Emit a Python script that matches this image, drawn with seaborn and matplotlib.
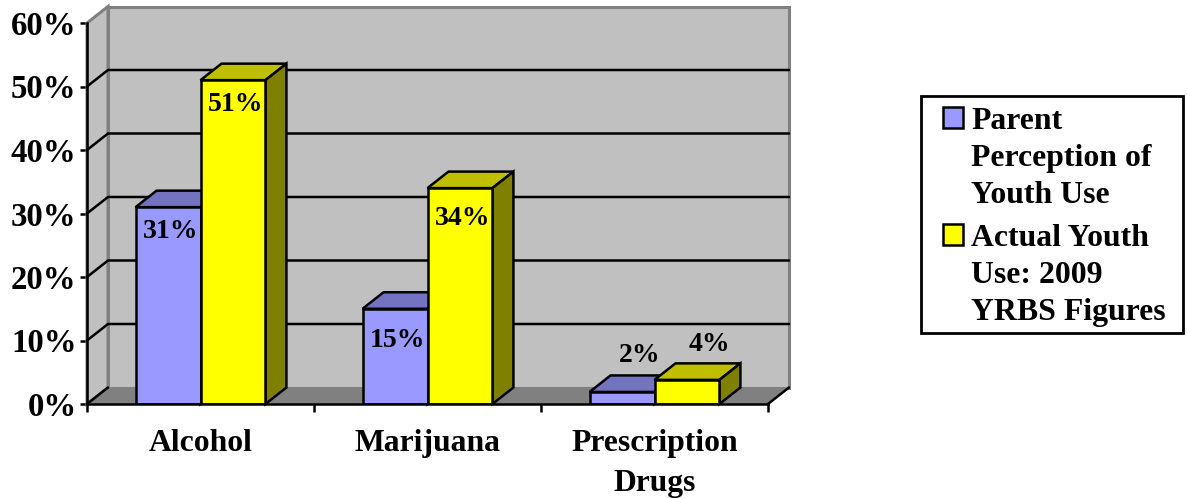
import matplotlib
matplotlib.use("Agg")
import matplotlib.pyplot as plt
import pandas as pd
import seaborn as sns
from matplotlib.colors import to_rgb
from matplotlib.patches import Polygon, Rectangle

categories = ["Alcohol", "Marijuana", "Prescription\nDrugs"]
series_names = ["Parent\nPerception of\nYouth Use", "Actual Youth\nUse: 2009\nYRBS Figures"]
parent_values = [31, 15, 1.9]
actual_values = [51, 34, 3.8]
parent_labels = ["31%", "15%", "2%"]
actual_labels = ["51%", "34%", "4%"]
y_ticks = [0, 10, 20, 30, 40, 50, 60]
colors = ["#9999FF", "#FFFF00"]

W, H = 1187, 499
sns.set_theme(style="white")
plt.rcParams["font.family"] = ["Liberation Serif", "DejaVu Serif"]
plt.rcParams["font.weight"] = "bold"
plt.rcParams["text.color"] = "black"

df = pd.DataFrame({
    "cat": categories * 2,
    "series": [series_names[0]] * 3 + [series_names[1]] * 3,
    "val": parent_values + actual_values,
})

LW = 1.8
BAR_W = 0.572
fig = plt.figure(figsize=(W / 100, H / 100), dpi=100, facecolor="white")
L, R, B, T = 87, 768, 404, 23
ax = fig.add_axes([L / W, 1 - B / H, (R - L) / W, (B - T) / H])
ax.patch.set_visible(False)

sns.barplot(data=df, x="cat", y="val", hue="series", palette=colors, width=BAR_W,
            gap=0, dodge=True, saturation=1, edgecolor="black", linewidth=LW,
            ax=ax, zorder=5, legend=True)
ax.set_xlim(-0.5, 2.5)
ax.set_ylim(0, 60)

bars = [p for p in ax.patches if isinstance(p, Rectangle) and p.get_height() > 0]

dx = 21 / ((R - L) / 3)
dy = 16.5 / ((B - T) / 60)
x0, x1 = -0.5, 2.5


def shade(c, f):
    return tuple(v * f for v in to_rgb(c))


# walls and floor
wall = "#C0C0C0"
ax.add_patch(Polygon([(x0 + dx, dy), (x1 + dx, dy), (x1 + dx, 60 + dy), (x0 + dx, 60 + dy)],
                     fc=wall, ec="#808080", lw=2.2, clip_on=False, zorder=1))
ax.add_patch(Polygon([(x0, 0), (x0 + dx, dy), (x0 + dx, 60 + dy), (x0, 60)],
                     fc=wall, ec="#808080", lw=2.2, clip_on=False, zorder=1))
ax.add_patch(Polygon([(x0, 0), (x1, 0), (x1 + dx, dy), (x0 + dx, dy)],
                     fc="#808080", ec="none", clip_on=False, zorder=1.5))
ax.plot([x1, x1 + dx], [0, dy], color="black", lw=LW, clip_on=False, zorder=2)
for v in y_ticks[1:-1]:
    ax.plot([x0, x0 + dx, x1 + dx], [v, v + dy, v + dy], color="black", lw=LW,
            clip_on=False, zorder=2)
ax.plot([x0, x0 + dx], [0, dy], color="black", lw=LW, clip_on=False, zorder=2)

# 3-D faces of each bar, derived from the bars seaborn drew
order = 5.0
for i, p in enumerate(sorted(bars, key=lambda b: b.get_x())):
    a, w, h = p.get_x(), p.get_width(), p.get_height()
    c = p.get_facecolor()
    top = Polygon([(a, h), (a + w, h), (a + w + dx, h + dy), (a + dx, h + dy)],
                  fc=shade(c, 0.75), ec="black", lw=LW, clip_on=False, joinstyle="miter")
    side = Polygon([(a + w, 0), (a + w + dx, dy), (a + w + dx, h + dy), (a + w, h)],
                   fc=shade(c, 0.5), ec="black", lw=LW, clip_on=False, joinstyle="miter")
    p.set_joinstyle("miter")
    p.set_zorder(order + 0.2)
    top.set_zorder(order)
    side.set_zorder(order + 0.1)
    ax.add_patch(top)
    ax.add_patch(side)
    order += 1

# axes
for s in ("top", "right"):
    ax.spines[s].set_visible(False)
for s in ("left", "bottom"):
    ax.spines[s].set_color("black")
    ax.spines[s].set_linewidth(LW)
    ax.spines[s].set_zorder(20)
ax.set_xlabel("")
ax.set_ylabel("")
ax.set_yticks(y_ticks)
ax.set_yticklabels([f"{v}%" for v in y_ticks], fontsize=23.6, fontweight="bold", color="black")
ax.set_xticks([-0.5, 0.5, 1.5, 2.5])
ax.set_xticklabels([])
ax.set_xticks([0, 1, 2], minor=True)
ax.set_xticklabels(categories, minor=True, fontsize=22.8, fontweight="bold", color="black",
                   linespacing=1.49)
ax.tick_params(axis="y", which="major", length=5, width=LW, color="black", pad=2.5, left=True)
ax.tick_params(axis="x", which="major", length=6, width=LW, color="black", bottom=True)
ax.tick_params(axis="x", which="minor", length=0, pad=18, bottom=False)

# value labels: offsets from each bar (axis units), style only
half = BAR_W / 2
label_style = {
    "31%": (0.013, -3.85), "51%": (0.013, -3.85), "15%": (0.013, -5.05), "34%": (0.013, -4.85),
    "2%": (0.077, dy + 3.2), "4%": (0.098, dy + 2.9),
}
for i in range(3):
    for vals, labs, off in ((parent_values, parent_labels, -half / 2), (actual_values, actual_labels, half / 2)):
        ox, oy = label_style[labs[i]]
        ax.text(i + off + ox, vals[i] + oy, labs[i], ha="center", va="center", fontsize=20,
                fontweight="bold", color="black", zorder=30, clip_on=False)

# legend: frame drawn separately so that its padding can differ per side
fig.add_artist(Rectangle((921 / W, 1 - 333 / H), (1183 - 921) / W, (333 - 96) / H,
                         transform=fig.transFigure, fc="white", ec="black", lw=2, zorder=-1))
handles, labels = ax.get_legend_handles_labels()
leg = ax.legend(handles, labels, loc="upper left", bbox_to_anchor=(943 / W, 1 - 107 / H),
                bbox_transform=fig.transFigure, borderaxespad=0, frameon=False,
                prop={"size": 22.9, "weight": "bold"}, labelcolor="black",
                handlelength=0.63, handleheight=0.63, handletextpad=0.25,
                labelspacing=0.45, borderpad=0, title=None)
leg.set_zorder(40)
for t in leg.get_texts():
    t.set_linespacing(1.36)
for row in leg._legend_handle_box.get_children()[0].get_children():
    row.align = "top"
for h in leg.get_patches():
    h.set_linewidth(LW)

fig.savefig("out.png", dpi=100, facecolor="white")
